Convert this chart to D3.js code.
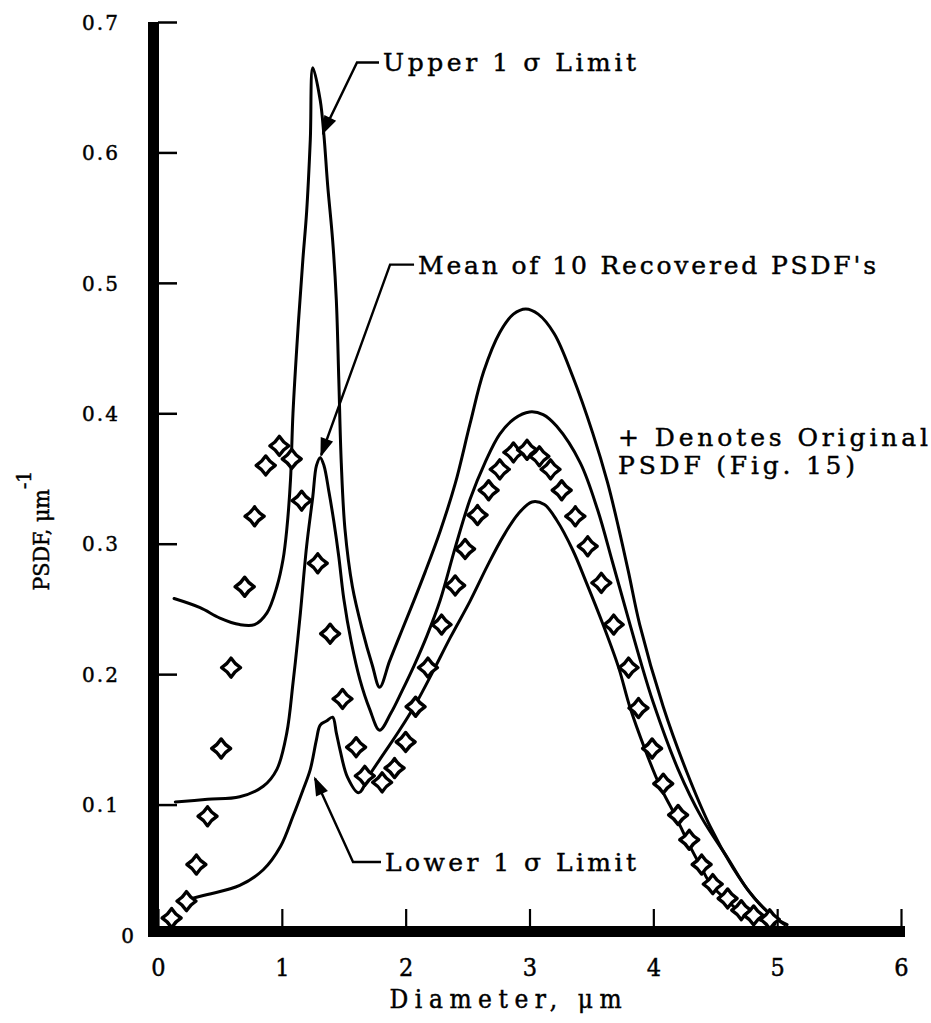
<!DOCTYPE html>
<html>
<head>
<meta charset="utf-8">
<script src="https://cdn.jsdelivr.net/npm/d3@7"></script>
<style>
  html, body { margin: 0; padding: 0; background: #fff; }
  svg { display: block; }
  text { font-family: "DejaVu Serif", "Liberation Serif", serif; fill: #000; stroke: #000; stroke-width: 0.45px; }
</style>
</head>
<body>
<svg id="chart" width="931" height="1023"></svg>
<script>
// Axis ticks
const xTickValues = [0, 1, 2, 3, 4, 5, 6];
const xTickLabels = ["0", "1", "2", "3", "4", "5", "6"];
const yTickValues = [0, 0.1, 0.2, 0.3, 0.4, 0.5, 0.6, 0.7];
const yTickLabels = ["0", "0.1", "0.2", "0.3", "0.4", "0.5", "0.6", "0.7"];

// Original PSDF (plotted as markers): [diameter um, PSDF um^-1]
const originalPSDF = [
  [0.11,0.013],[0.23,0.026],[0.31,0.054],[0.40,0.091],[0.51,0.143],[0.59,0.205],
  [0.70,0.267],[0.78,0.321],[0.87,0.360],[0.98,0.375],[1.08,0.365],[1.16,0.333],
  [1.29,0.285],[1.39,0.231],[1.49,0.181],[1.60,0.144],[1.67,0.122],[1.81,0.117],
  [1.91,0.128],[2.00,0.148],[2.08,0.175],[2.18,0.205],[2.29,0.238],[2.40,0.268],
  [2.48,0.296],[2.58,0.322],[2.67,0.341],[2.76,0.357],[2.87,0.370],[2.98,0.372],
  [3.08,0.367],[3.17,0.357],[3.26,0.341],[3.37,0.321],[3.47,0.298],[3.58,0.270],
  [3.68,0.238],[3.80,0.205],[3.88,0.174],[3.99,0.143],[4.08,0.116],[4.20,0.092],
  [4.29,0.073],[4.39,0.054],[4.48,0.039],[4.60,0.028],[4.71,0.019],[4.81,0.015],
  [4.94,0.012]
];

// Upper 1-sigma limit of the recovered PSDFs
const upperLimit = [
  [0.13,0.258],[0.34,0.251],[0.50,0.243],[0.66,0.238],[0.78,0.238],[0.88,0.247],
  [0.96,0.267],[1.01,0.288],[1.04,0.311],[1.07,0.349],[1.09,0.400],[1.13,0.464],
  [1.17,0.518],[1.20,0.554],[1.23,0.610],[1.25,0.665],[1.31,0.640],[1.34,0.613],
  [1.37,0.575],[1.41,0.533],[1.44,0.487],[1.46,0.426],[1.48,0.362],[1.51,0.311],
  [1.57,0.267],[1.65,0.234],[1.73,0.207],[1.79,0.190],[1.87,0.210],[1.95,0.229],
  [2.04,0.250],[2.16,0.279],[2.28,0.310],[2.40,0.346],[2.52,0.392],[2.63,0.432],
  [2.76,0.462],[2.87,0.476],[2.97,0.480],[3.07,0.476],[3.20,0.461],[3.35,0.428],
  [3.51,0.385],[3.63,0.347],[3.72,0.312],[3.80,0.278],[3.89,0.238],[4.08,0.175],
  [4.27,0.125],[4.46,0.083],[4.64,0.052],[4.81,0.029],[4.97,0.014],[5.08,0.008]
];

// Mean of 10 recovered PSDFs
const meanPSDF = [
  [0.14,0.102],[0.40,0.104],[0.66,0.106],[0.85,0.114],[0.96,0.127],[1.04,0.155],
  [1.09,0.193],[1.12,0.219],[1.15,0.247],[1.20,0.298],[1.25,0.336],[1.28,0.360],
  [1.31,0.366],[1.34,0.360],[1.38,0.340],[1.42,0.317],[1.46,0.290],[1.50,0.258],
  [1.56,0.225],[1.63,0.196],[1.71,0.173],[1.79,0.157],[1.88,0.170],[1.97,0.187],
  [2.07,0.207],[2.17,0.229],[2.28,0.257],[2.40,0.297],[2.52,0.334],[2.64,0.362],
  [2.76,0.384],[2.88,0.396],[3.00,0.401],[3.11,0.399],[3.22,0.390],[3.41,0.362],
  [3.55,0.326],[3.67,0.286],[3.80,0.242],[3.89,0.212],[4.00,0.178],[4.20,0.127],
  [4.39,0.090],[4.60,0.059],[4.76,0.035],[4.92,0.018],[5.06,0.008]
];

// Lower 1-sigma limit of the recovered PSDFs
const lowerLimit = [
  [0.23,0.027],[0.40,0.031],[0.66,0.038],[0.85,0.050],[0.99,0.068],[1.09,0.091],
  [1.17,0.111],[1.23,0.127],[1.28,0.150],[1.31,0.161],[1.36,0.164],[1.41,0.167],
  [1.44,0.155],[1.47,0.142],[1.53,0.121],[1.62,0.109],[1.71,0.123],[1.83,0.140],
  [1.95,0.157],[2.08,0.177],[2.22,0.202],[2.36,0.228],[2.52,0.256],[2.66,0.283],
  [2.79,0.306],[2.91,0.323],[3.02,0.332],[3.12,0.330],[3.22,0.318],[3.35,0.295],
  [3.46,0.270],[3.59,0.239],[3.72,0.205],[3.81,0.175],[3.93,0.143],[4.05,0.115],
  [4.18,0.091],[4.28,0.071],[4.38,0.053],[4.47,0.038],[4.59,0.027],[4.70,0.018],
  [4.82,0.013],[4.98,0.008]
];

// Callout labels: arrow tip, elbow of the leader, label start (data units)
const callouts = [
  { text: "Upper 1 σ Limit",             tip: [1.332, 0.615], elbow: [1.607, 0.669], at: [1.817, 0.669], width: 253 },
  { text: "Mean of 10 Recovered PSDF's", tip: [1.318, 0.368], elbow: [1.874, 0.514], at: [2.100, 0.514], width: 458 },
  { text: "Lower 1 σ Limit",             tip: [1.268, 0.120], elbow: [1.575, 0.056], at: [1.833, 0.056], width: 251 }
];
const noteLines = ["+ Denotes Original", "PSDF (Fig. 15)"];
const noteWidths = [310, 237];
const notePos = [3.715, 0.382];

const svg = d3.select("#chart");
const x = d3.scaleLinear().domain([0, 6]).range([158, 901]);
const y = d3.scaleLinear().domain([0, 0.7]).range([935, 22]);

// ---- axes ----
// heavy frame bars
svg.append("rect")
  .attr("x", x(0) - 10).attr("y", y(0.7))
  .attr("width", 11).attr("height", y(0) - y(0.7) + 2)
  .attr("fill", "#000");
svg.append("rect")
  .attr("x", x(0) - 10).attr("y", y(0) - 9)
  .attr("width", x(6) - x(0) + 14).attr("height", 11)
  .attr("fill", "#000");

const xAxis = svg.append("g")
  .attr("transform", `translate(0,${y(0) - 9})`)
  .call(d3.axisBottom(x).tickValues(xTickValues).tickSize(-17).tickSizeOuter(0)
        .tickFormat((d, i) => xTickLabels[i]));
xAxis.select(".domain").remove();
xAxis.selectAll(".tick line").attr("stroke", "#000").attr("stroke-width", 2.2);
xAxis.selectAll(".tick text")
  .attr("y", 50).attr("dy", null)
  .attr("fill", "#000").attr("stroke", "#000").attr("stroke-width", 0.4)
  .style("font-size", "25px").style("font-family", "'DejaVu Serif', serif")
  .style("font-stretch", "condensed");

const yAxis = svg.append("g")
  .attr("transform", `translate(${x(0)},0)`)
  .call(d3.axisLeft(y).tickValues(yTickValues).tickSize(-19).tickSizeOuter(0)
        .tickPadding(40).tickFormat((d, i) => yTickLabels[i]));
yAxis.select(".domain").remove();
yAxis.selectAll(".tick line").attr("stroke", "#000").attr("stroke-width", 2.5);
yAxis.selectAll(".tick text")
  .attr("dy", "0.36em")
  .attr("x", d => d === 0 ? -24 : -40)
  .attr("textLength", d => d === 0 ? null : 36)
  .attr("lengthAdjust", "spacing")
  .attr("fill", "#000").attr("stroke", "#000").attr("stroke-width", 0.5)
  .style("font-size", "20px").style("font-family", "'DejaVu Serif', serif");

// axis titles
svg.append("text")
  .attr("x", x(1.87)).attr("y", 1008)
  .attr("textLength", 232).attr("lengthAdjust", "spacing")
  .style("font-size", "26px").style("font-stretch", "condensed")
  .text("Diameter, μm");

const yTitle = svg.append("text")
  .attr("transform", `translate(49,${y(0.31)}) rotate(-90)`)
  .attr("text-anchor", "middle")
  .style("font-size", "23px").style("font-stretch", "condensed");
yTitle.append("tspan").text("PSDF, μm");
yTitle.append("tspan").attr("dy", -18).style("font-size", "21px").text("-1");

// ---- curves ----
const line = d3.line()
  .x(d => x(d[0])).y(d => y(d[1]))
  .curve(d3.curveCatmullRom.alpha(0.5));

[upperLimit, meanPSDF, lowerLimit].forEach(series => {
  svg.append("path")
    .datum(series)
    .attr("d", line)
    .attr("fill", "none")
    .attr("stroke", "#000")
    .attr("stroke-width", 3)
    .attr("stroke-linejoin", "round")
    .attr("stroke-linecap", "round");
});

// ---- original PSDF markers (rounded four-point outline) ----
function starPath(r) {
  const k = r * 0.38;
  return `M0,${-r} Q${k},${-k} ${r},0 Q${k},${k} 0,${r} Q${-k},${k} ${-r},0 Q${-k},${-k} 0,${-r} Z`;
}
svg.append("g").selectAll("path")
  .data(originalPSDF)
  .join("path")
  .attr("transform", d => `translate(${x(d[0])},${y(d[1])})`)
  .attr("d", starPath(9.5))
  .attr("fill", "#fff")
  .attr("stroke", "#000")
  .attr("stroke-width", 3.4)
  .attr("stroke-linejoin", "round");

// ---- callouts ----
callouts.forEach(c => {
  const tx = x(c.tip[0]), ty = y(c.tip[1]);
  const ex = x(c.elbow[0]), ey = y(c.elbow[1]);
  const lx = x(c.at[0]);
  svg.append("path")
    .attr("d", `M${lx - 4},${ey} L${ex},${ey} L${tx},${ty}`)
    .attr("fill", "none").attr("stroke", "#000").attr("stroke-width", 2.4);
  // filled arrowhead at the tip
  const ang = Math.atan2(ty - ey, tx - ex);
  const len = 16, half = 5.5;
  const bx = tx - len * Math.cos(ang), by = ty - len * Math.sin(ang);
  const px = -Math.sin(ang) * half, py = Math.cos(ang) * half;
  svg.append("path")
    .attr("d", `M${tx},${ty} L${bx + px},${by + py} L${bx - px},${by - py} Z`)
    .attr("fill", "#000").attr("stroke", "#000").attr("stroke-width", 1.5);
  svg.append("text")
    .attr("x", lx).attr("y", ey).attr("dy", "0.36em")
    .attr("textLength", c.width).attr("lengthAdjust", "spacing")
    .style("font-size", "25px")
    .text(c.text);
});

noteLines.forEach((t, i) => {
  svg.append("text")
    .attr("x", x(notePos[0])).attr("y", y(notePos[1]) + i * 28).attr("dy", "0.36em")
    .attr("textLength", noteWidths[i]).attr("lengthAdjust", "spacing")
    .style("font-size", "25px")
    .text(t);
});
</script>
</body>
</html>
